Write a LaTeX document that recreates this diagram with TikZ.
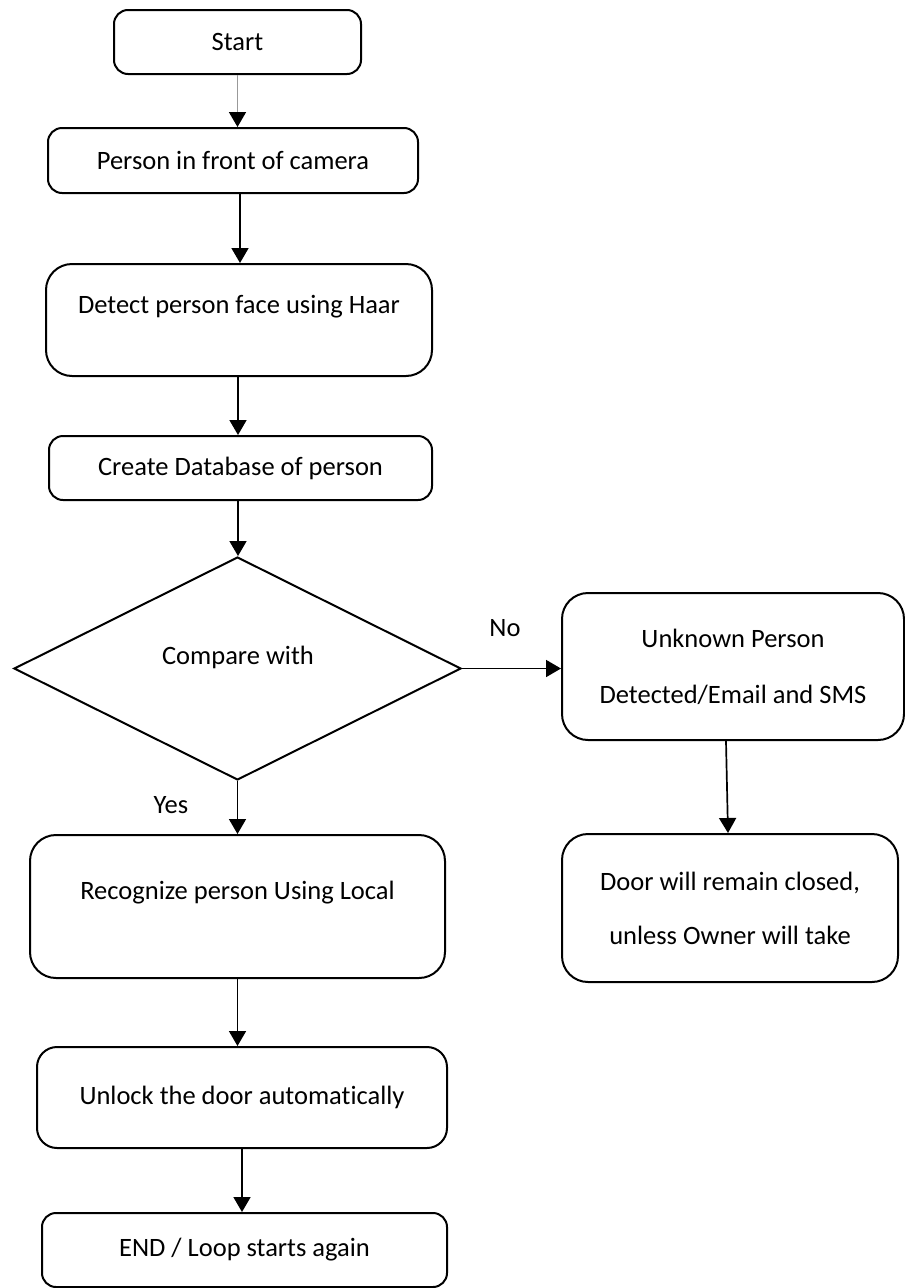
\documentclass[tikz,border=0pt]{standalone}
\usepackage{fontspec}
\setmainfont{Carlito}[Ligatures=NoCommon]
\usetikzlibrary{arrows.meta,shapes.geometric}
\begin{document}
\begin{tikzpicture}[x=1pt,y=-1pt,
  box/.style={draw=black, line width=2pt, rounded corners=14pt, inner sep=0pt,
    font=\fontsize{26.5}{31}\selectfont, align=center},
  bigbox/.style={box, rounded corners=26pt},
  txt/.style={inner sep=0pt, font=\fontsize{26.5}{31}\selectfont, align=center},
  arr/.style={draw=black, line width=1.7pt, -{Triangle[width=17pt,length=15pt,color=black]}},
  greyarr/.style={arr, draw=black!40},
  decision/.style={diamond, draw=black, line width=2pt, inner sep=0pt, aspect=2},
]
\useasboundingbox (0,0) rectangle (905,1288);

% boxes
\node[box, minimum width=247pt, minimum height=64pt] (start) at (237.5,42) {Start};
\node[box, minimum width=370pt, minimum height=65pt] (person) at (233,160.5) {Person in front of camera};
\node[bigbox, minimum width=386pt, minimum height=112pt] (detect) at (239,320) {};
\node[txt] (detectt) at (239,307) {Detect person face using Haar};
\node[box, minimum width=383pt, minimum height=64pt] (create) at (240.5,468) {Create Database of person};
\node[decision, minimum width=447pt, minimum height=223pt] (cmp) at (237.5,668.5) {};
\node[txt] (cmpt) at (238,657) {Compare with};
\node[bigbox, minimum width=342pt, minimum height=147pt] (unknown) at (733,666.5)
  {Unknown Person\\[25pt]Detected/Email and SMS};
\node[bigbox, minimum width=336pt, minimum height=148pt] (door) at (730,908)
  {Door will remain closed,\\[23pt]unless Owner will take};
\node[bigbox, minimum width=415pt, minimum height=143pt] (recog) at (237.5,906.5) {};
\node[txt] (recogt) at (237.5,893) {Recognize person Using Local};
\node[box, rounded corners=20pt, minimum width=410pt, minimum height=101pt] (unlock) at (242,1097.5) {Unlock the door automatically};
\node[box, minimum width=405pt, minimum height=74pt] (end) at (244.5,1250) {END / Loop starts again};

% labels
\node[txt] (no) at (505,628) {No};
\node[txt] (yes) at (171,805) {Yes};

% connectors
\draw[greyarr] (start.south) -- (start.south |- person.north);
\draw[arr] ([xshift=7pt]person.south) -- ([xshift=7pt]person.south |- detect.north);
\draw[arr] ([xshift=-1pt]detect.south) -- ([xshift=-1pt]detect.south |- create.north);
\draw[arr] ([xshift=-2.5pt]create.south) -- ([xshift=-2.5pt]create.south |- cmp.north);
\draw[arr] (cmp.east) -- (cmp.east -| unknown.west);
\draw[arr] ([xshift=-7pt]unknown.south) -- ([xshift=-2pt]door.north);
\draw[arr] (cmp.south) -- (cmp.south |- recog.north);
\draw[arr] (recog.south) -- (recog.south |- unlock.north);
\draw[arr] (unlock.south) -- (unlock.south |- end.north);
\end{tikzpicture}
\end{document}
